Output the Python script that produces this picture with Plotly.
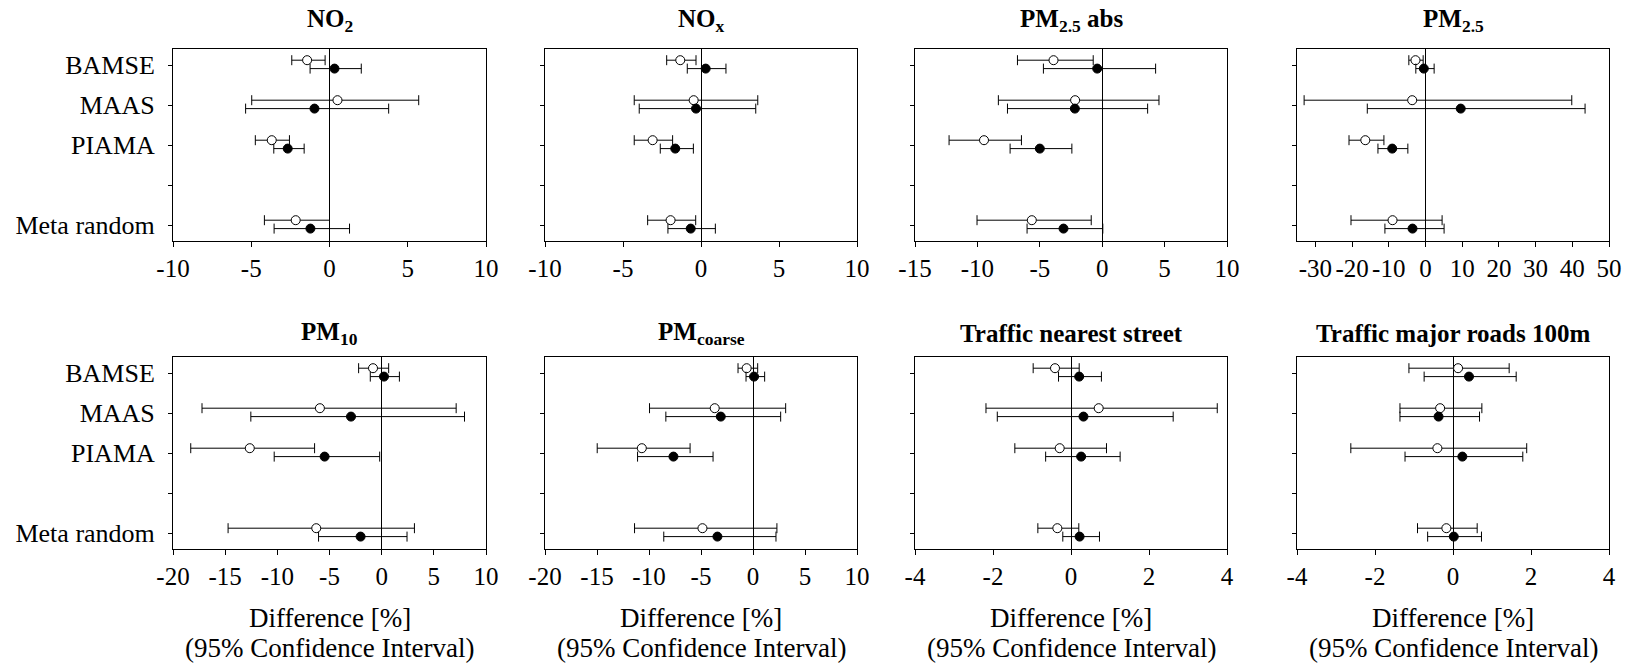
import plotly.graph_objects as go

W, H = 1627, 663

# ---- categories / labels ----
cohorts = ["BAMSE", "MAAS", "PIAMA", "", "Meta random"]
row_cohorts = ["BAMSE", "MAAS", "PIAMA", "Meta random"]

titles = ["NO<sub>2</sub>", "NO<sub>x</sub>", "PM<sub>2.5</sub> abs", "PM<sub>2.5</sub>",
          "PM<sub>10</sub>", "PM<sub>coarse</sub>", "Traffic nearest street",
          "Traffic major roads 100m"]

# ---- data: open circles (est, lower, upper), filled circles (est, lower, upper) ----
no2_open = [-1.43, 0.51, -3.69, -2.16]
no2_open_lo = [-2.41, -4.97, -4.74, -4.16]
no2_open_hi = [-0.28, 5.70, -2.56, 0.00]
no2_fill = [0.32, -0.96, -2.67, -1.22]
no2_fill_lo = [-1.24, -5.36, -3.56, -3.54]
no2_fill_hi = [2.03, 3.78, -1.62, 1.28]

nox_open = [-1.33, -0.47, -3.10, -1.95]
nox_open_lo = [-2.20, -4.28, -4.28, -3.42]
nox_open_hi = [-0.32, 3.64, -1.82, -0.34]
nox_fill = [0.30, -0.32, -1.65, -0.66]
nox_fill_lo = [-0.88, -3.96, -2.61, -2.12]
nox_fill_hi = [1.60, 3.51, -0.49, 0.92]

pm25abs_open = [-3.90, -2.17, -9.47, -5.64]
pm25abs_open_lo = [-6.79, -8.32, -12.27, -10.03]
pm25abs_open_hi = [-0.72, 4.55, -6.47, -0.88]
pm25abs_fill = [-0.40, -2.19, -5.00, -3.10]
pm25abs_fill_lo = [-4.71, -7.59, -7.38, -6.02]
pm25abs_fill_hi = [4.28, 3.64, -2.43, 0.05]

pm25_open = [-2.72, -3.62, -16.39, -8.97]
pm25_open_lo = [-4.53, -33.06, -20.83, -20.29]
pm25_open_hi = [-0.63, 39.86, -11.32, 4.53]
pm25_fill = [-0.45, 9.60, -9.06, -3.53]
pm25_fill_lo = [-2.63, -15.85, -12.95, -11.05]
pm25_fill_hi = [2.36, 43.48, -4.80, 5.07]

pm10_open = [-0.83, -5.92, -12.64, -6.27]
pm10_open_lo = [-2.21, -17.22, -18.30, -14.72]
pm10_open_hi = [0.67, 7.14, -6.43, 3.14]
pm10_fill = [0.22, -2.94, -5.47, -2.02]
pm10_fill_lo = [-1.09, -12.54, -10.30, -6.05]
pm10_fill_hi = [1.70, 7.94, -0.19, 2.43]

pmc_open = [-0.61, -3.68, -10.69, -4.86]
pmc_open_lo = [-1.44, -9.95, -14.98, -11.39]
pmc_open_hi = [0.45, 3.14, -6.05, 2.30]
pmc_fill = [0.10, -3.10, -7.65, -3.42]
pmc_fill_lo = [-0.67, -8.38, -11.10, -8.58]
pmc_fill_hi = [1.12, 2.66, -3.84, 2.21]

tns_open = [-0.41, 0.71, -0.29, -0.35]
tns_open_lo = [-0.97, -2.18, -1.44, -0.85]
tns_open_hi = [0.21, 3.75, 0.91, 0.20]
tns_fill = [0.21, 0.32, 0.26, 0.22]
tns_fill_lo = [-0.32, -1.89, -0.65, -0.21]
tns_fill_hi = [0.78, 2.62, 1.26, 0.73]

tmr_open = [0.13, -0.33, -0.40, -0.17]
tmr_open_lo = [-1.13, -1.36, -2.62, -0.91]
tmr_open_hi = [1.44, 0.74, 1.89, 0.62]
tmr_fill = [0.41, -0.37, 0.24, 0.02]
tmr_fill_lo = [-0.74, -1.36, -1.23, -0.65]
tmr_fill_hi = [1.62, 0.68, 1.79, 0.73]

# x axis ranges / tick values per panel
x_ranges = [[-10, 10], [-10, 10], [-15, 10], [-35, 50], [-20, 10], [-20, 10], [-4, 4], [-4, 4]]
x_ticks = [list(range(-10, 11, 5)), list(range(-10, 11, 5)), list(range(-15, 11, 5)),
           list(range(-30, 51, 10)), list(range(-20, 11, 5)), list(range(-20, 11, 5)),
           list(range(-4, 5, 2)), list(range(-4, 5, 2))]

panels = [
    (no2_open, no2_open_lo, no2_open_hi, no2_fill, no2_fill_lo, no2_fill_hi),
    (nox_open, nox_open_lo, nox_open_hi, nox_fill, nox_fill_lo, nox_fill_hi),
    (pm25abs_open, pm25abs_open_lo, pm25abs_open_hi, pm25abs_fill, pm25abs_fill_lo, pm25abs_fill_hi),
    (pm25_open, pm25_open_lo, pm25_open_hi, pm25_fill, pm25_fill_lo, pm25_fill_hi),
    (pm10_open, pm10_open_lo, pm10_open_hi, pm10_fill, pm10_fill_lo, pm10_fill_hi),
    (pmc_open, pmc_open_lo, pmc_open_hi, pmc_fill, pmc_fill_lo, pmc_fill_hi),
    (tns_open, tns_open_lo, tns_open_hi, tns_fill, tns_fill_lo, tns_fill_hi),
    (tmr_open, tmr_open_lo, tmr_open_hi, tmr_fill, tmr_fill_lo, tmr_fill_hi),
]

# ---- layout geometry (pixels) ----
col_px = [(173, 486), (545, 857), (915, 1227), (1297, 1609)]
row_px = [(49, 241), (357, 549)]
title_y_px = [20, 333]

FONT = "Liberation Serif"
cat_pos = [cohorts.index(c) for c in row_cohorts]
OPEN_OFF, FILL_OFF = -0.12, 0.09

fig = go.Figure()
annotations = []
layout = {}

for i, (oe, ol, oh, fe, fl, fh) in enumerate(panels):
    r, c = divmod(i, 4)
    n = i + 1
    xa = "x" if n == 1 else f"x{n}"
    ya = "y" if n == 1 else f"y{n}"
    yo = [p + OPEN_OFF for p in cat_pos]
    yf = [p + FILL_OFF for p in cat_pos]
    for est, lo, hi, yy, fill in ((oe, ol, oh, yo, "white"), (fe, fl, fh, yf, "black")):
        fig.add_trace(go.Scatter(
            x=est, y=yy, mode="markers", xaxis=xa, yaxis=ya, showlegend=False,
            hoverinfo="skip",
            marker=dict(symbol="circle", size=9, color=fill, line=dict(color="black", width=1)),
            error_x=dict(type="data", symmetric=False,
                         array=[h - e for h, e in zip(hi, est)],
                         arrayminus=[e - l for e, l in zip(est, lo)],
                         color="black", thickness=1, width=5),
        ))
    x0, x1 = col_px[c]
    yt, yb = row_px[r]
    xkey = "xaxis" if n == 1 else f"xaxis{n}"
    ykey = "yaxis" if n == 1 else f"yaxis{n}"
    layout[xkey] = dict(
        domain=[x0 / W, x1 / W], anchor=ya, range=x_ranges[i], tickvals=x_ticks[i],
        ticktext=[str(v) for v in x_ticks[i]], tickangle=0, automargin=False,
        showgrid=False, zeroline=True, zerolinecolor="black", zerolinewidth=1,
        showline=True, mirror=True, linecolor="black", linewidth=1,
        ticks="outside", ticklen=5, tickcolor="black", fixedrange=True,
        tickfont=dict(family=FONT, size=25, color="black"),
    )
    layout[ykey] = dict(
        domain=[1 - yb / H, 1 - yt / H], anchor=xa, range=[4.4, -0.4],
        tickvals=list(range(len(cohorts))), ticktext=cohorts,
        showticklabels=(c == 0), automargin=False,
        showgrid=False, zeroline=False, fixedrange=True,
        showline=True, mirror=True, linecolor="black", linewidth=1,
        ticks="outside", ticklen=4, tickcolor="black", ticklabelstandoff=8,
        tickfont=dict(family=FONT, size=26, color="black"),
    )
    annotations.append(dict(
        text=f"<b>{titles[i]}</b>", xref="paper", yref="paper",
        x=(x0 + x1) / 2 / W, y=1 - title_y_px[r] / H, xanchor="center", yanchor="middle",
        showarrow=False, font=dict(family=FONT, size=25, color="black"),
    ))
    if r == 1:
        for txt, ypx in (("Difference [%]", 618), ("(95% Confidence Interval)", 648)):
            annotations.append(dict(
                text=txt, xref="paper", yref="paper",
                x=(x0 + x1) / 2 / W, y=1 - ypx / H, xanchor="center", yanchor="middle",
                showarrow=False, font=dict(family=FONT, size=27, color="black"),
            ))

fig.update_layout(
    width=W, height=H, margin=dict(l=0, r=0, t=0, b=0),
    paper_bgcolor="white", plot_bgcolor="white",
    annotations=annotations, **layout,
)

fig.write_html(
    "out.html",
    config={"displayModeBar": False},
    post_script="document.body.style.margin='0';document.body.style.overflow='hidden';",
)
